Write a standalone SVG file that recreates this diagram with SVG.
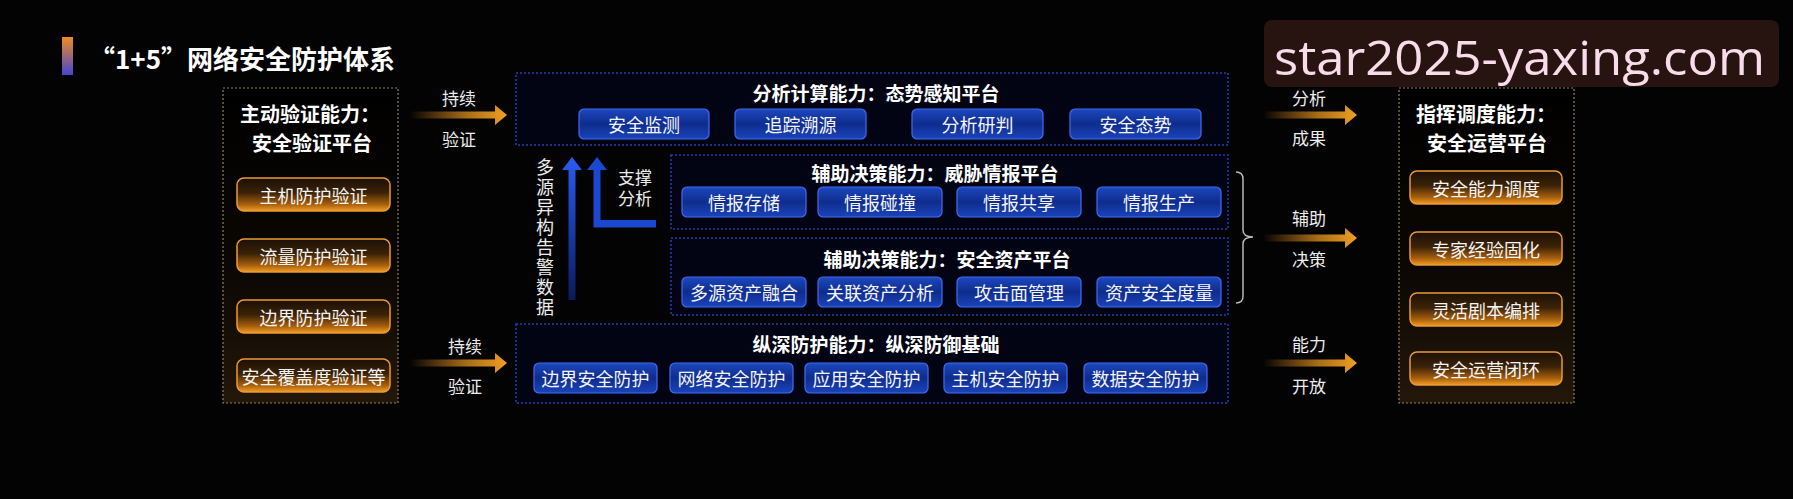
<svg xmlns="http://www.w3.org/2000/svg" width="1793" height="499" viewBox="0 0 1793 499">
  <style>
    text { font-family: "Noto Sans CJK SC", "Noto Sans", sans-serif; fill: #ffffff; }
    .h { font-size: 20px; font-weight: bold; text-anchor: middle; dominant-baseline: central; }
    .bh { font-size: 19px; font-weight: bold; text-anchor: middle; dominant-baseline: central; }
    .bt { font-size: 18px; text-anchor: middle; dominant-baseline: central; fill: #f4f4f4; }
    .lb { font-size: 17px; text-anchor: middle; dominant-baseline: central; fill: #ececec; }
    .ob { fill: url(#gOrange); stroke: #eb9a34; stroke-width: 1.5; }
    .bb { fill: url(#gBlue); stroke: #3f6cf0; stroke-width: 1.2; }
    .gbox { fill: url(#gBrown); stroke: #8f8068; stroke-width: 1.2; stroke-dasharray: 2 2; }
    .nbox { fill: #04061a; fill-opacity: 0.75; stroke: #2c3ab4; stroke-width: 1.5; stroke-dasharray: 2 2; }
    .oa { fill: url(#gArrow); }
  </style>
  <defs>
    <linearGradient id="gOrange" x1="0" y1="0" x2="0" y2="1">
      <stop offset="0" stop-color="#1c1006"/>
      <stop offset="0.45" stop-color="#3b2207"/>
      <stop offset="0.8" stop-color="#a8600e"/>
      <stop offset="1" stop-color="#f29c22"/>
    </linearGradient>
    <linearGradient id="gBlue" x1="0" y1="0" x2="0" y2="1">
      <stop offset="0" stop-color="#1d48c0"/>
      <stop offset="0.5" stop-color="#0e2c8c"/>
      <stop offset="1" stop-color="#1a44bc"/>
    </linearGradient>
    <linearGradient id="gBrown" x1="0" y1="0" x2="0" y2="1">
      <stop offset="0" stop-color="#000000"/>
      <stop offset="0.6" stop-color="#0c0803"/>
      <stop offset="1" stop-color="#24170a"/>
    </linearGradient>
    <linearGradient id="gArrow" x1="0" y1="0" x2="1" y2="0">
      <stop offset="0" stop-color="#e8901a" stop-opacity="0"/>
      <stop offset="0.6" stop-color="#d58a1e" stop-opacity="0.8"/>
      <stop offset="1" stop-color="#f2a024"/>
    </linearGradient>
    <linearGradient id="gTitleBar" x1="0" y1="0" x2="0" y2="1">
      <stop offset="0" stop-color="#f08c22"/>
      <stop offset="1" stop-color="#4446d0"/>
    </linearGradient>
    <linearGradient id="gBlueV" x1="0" y1="0" x2="0" y2="1">
      <stop offset="0" stop-color="#2a5cf2"/>
      <stop offset="1" stop-color="#0a1a5c"/>
    </linearGradient>
  </defs>

  <rect x="0" y="0" width="1793" height="499" fill="#030303"/>

  <!-- Title -->
  <g id="title">
    <rect x="62" y="37" width="11" height="38" fill="url(#gTitleBar)"/>
    <text x="89" y="57" style="font-size:26px;font-weight:bold;dominant-baseline:central;">“1+5”网络安全防护体系</text>
  </g>

  <!-- Overlay site text -->
  <g id="site-label">
    <rect x="1264" y="20" width="515" height="67" rx="8" fill="#2a1511" fill-opacity="0.92"/>
    <text x="1274" y="75" textLength="491" lengthAdjust="spacingAndGlyphs" style="font-family:'Open Sans','Noto Sans',sans-serif;font-size:48px;fill:#f9dcea;">star2025-yaxing.com</text>
  </g>

  <!-- Left: 主动验证能力 -->
  <g id="verify-platform">
    <rect class="gbox" x="223" y="88" width="175" height="315"/>
    <text class="h" x="310" y="113">主动验证能力：</text>
    <text class="h" x="312" y="142">安全验证平台</text>
    <g id="v1"><rect class="ob" x="237" y="178" width="153" height="33" rx="7"/><text class="bt" x="313.5" y="194.5">主机防护验证</text></g>
    <g id="v2"><rect class="ob" x="237" y="239" width="153" height="33" rx="7"/><text class="bt" x="313.5" y="255.5">流量防护验证</text></g>
    <g id="v3"><rect class="ob" x="237" y="300" width="153" height="33" rx="7"/><text class="bt" x="313.5" y="316.5">边界防护验证</text></g>
    <g id="v4"><rect class="ob" x="237" y="359" width="153" height="33" rx="7"/><text class="bt" x="313.5" y="375.5">安全覆盖度验证等</text></g>
  </g>

  <!-- 态势感知平台 -->
  <g id="situation-platform">
    <rect class="nbox" x="516" y="73" width="712" height="72"/>
    <text class="bh" x="876" y="92">分析计算能力：态势感知平台</text>
    <g id="s1"><rect class="bb" x="579" y="109" width="130" height="30" rx="5"/><text class="bt" x="644" y="124">安全监测</text></g>
    <g id="s2"><rect class="bb" x="735" y="109" width="131" height="30" rx="5"/><text class="bt" x="800.5" y="124">追踪溯源</text></g>
    <g id="s3"><rect class="bb" x="912" y="109" width="131" height="30" rx="5"/><text class="bt" x="977.5" y="124">分析研判</text></g>
    <g id="s4"><rect class="bb" x="1070" y="109" width="131" height="30" rx="5"/><text class="bt" x="1135.5" y="124">安全态势</text></g>
  </g>

  <!-- 威胁情报平台 -->
  <g id="threat-intel-platform">
    <rect class="nbox" x="671" y="155" width="557" height="74"/>
    <text class="bh" x="935" y="172">辅助决策能力：威胁情报平台</text>
    <g id="t1"><rect class="bb" x="682" y="187" width="124" height="30" rx="5"/><text class="bt" x="744" y="202">情报存储</text></g>
    <g id="t2"><rect class="bb" x="818" y="187" width="124" height="30" rx="5"/><text class="bt" x="880" y="202">情报碰撞</text></g>
    <g id="t3"><rect class="bb" x="957" y="187" width="124" height="30" rx="5"/><text class="bt" x="1019" y="202">情报共享</text></g>
    <g id="t4"><rect class="bb" x="1097" y="187" width="124" height="30" rx="5"/><text class="bt" x="1159" y="202">情报生产</text></g>
  </g>

  <!-- 安全资产平台 -->
  <g id="asset-platform">
    <rect class="nbox" x="671" y="238" width="557" height="77"/>
    <text class="bh" x="947" y="258">辅助决策能力：安全资产平台</text>
    <g id="a1"><rect class="bb" x="682" y="277" width="124" height="30" rx="5"/><text class="bt" x="744" y="292">多源资产融合</text></g>
    <g id="a2"><rect class="bb" x="818" y="277" width="124" height="30" rx="5"/><text class="bt" x="880" y="292">关联资产分析</text></g>
    <g id="a3"><rect class="bb" x="957" y="277" width="124" height="30" rx="5"/><text class="bt" x="1019" y="292">攻击面管理</text></g>
    <g id="a4"><rect class="bb" x="1097" y="277" width="124" height="30" rx="5"/><text class="bt" x="1159" y="292">资产安全度量</text></g>
  </g>

  <!-- 纵深防御基础 -->
  <g id="defense-base">
    <rect class="nbox" x="516" y="324" width="712" height="79"/>
    <text class="bh" x="876" y="343">纵深防护能力：纵深防御基础</text>
    <g id="d1"><rect class="bb" x="534" y="363" width="123" height="30" rx="5"/><text class="bt" x="595.5" y="378">边界安全防护</text></g>
    <g id="d2"><rect class="bb" x="670" y="363" width="123" height="30" rx="5"/><text class="bt" x="731.5" y="378">网络安全防护</text></g>
    <g id="d3"><rect class="bb" x="805" y="363" width="123" height="30" rx="5"/><text class="bt" x="866.5" y="378">应用安全防护</text></g>
    <g id="d4"><rect class="bb" x="944" y="363" width="123" height="30" rx="5"/><text class="bt" x="1005.5" y="378">主机安全防护</text></g>
    <g id="d5"><rect class="bb" x="1084" y="363" width="123" height="30" rx="5"/><text class="bt" x="1145.5" y="378">数据安全防护</text></g>
  </g>

  <!-- Right: 安全运营平台 -->
  <g id="ops-platform">
    <rect class="gbox" x="1399" y="88" width="175" height="315"/>
    <text class="h" x="1486" y="113">指挥调度能力：</text>
    <text class="h" x="1487" y="142">安全运营平台</text>
    <g id="o1"><rect class="ob" x="1410" y="171" width="152" height="33" rx="7"/><text class="bt" x="1486" y="187.5">安全能力调度</text></g>
    <g id="o2"><rect class="ob" x="1410" y="232" width="152" height="33" rx="7"/><text class="bt" x="1486" y="248.5">专家经验固化</text></g>
    <g id="o3"><rect class="ob" x="1410" y="293" width="152" height="33" rx="7"/><text class="bt" x="1486" y="309.5">灵活剧本编排</text></g>
    <g id="o4"><rect class="ob" x="1410" y="352" width="152" height="33" rx="7"/><text class="bt" x="1486" y="368.5">安全运营闭环</text></g>
  </g>

  <!-- Connectors -->
  <g id="connectors">
    <!-- left orange arrows -->
    <path class="oa" d="M410,111.5 H495 V105 L507,115 L495,125 V118.5 H410 Z"/>
    <path class="oa" d="M410,359.5 H495 V353 L507,363 L495,373 V366.5 H410 Z"/>
    <text class="lb" x="459" y="97">持续</text>
    <text class="lb" x="459" y="138">验证</text>
    <text class="lb" x="465" y="345">持续</text>
    <text class="lb" x="465" y="385">验证</text>

    <!-- blue vertical arrows -->
    <path d="M568.5,170 H562 L572,157 L582,170 H575.5 V300 H568.5 Z" fill="url(#gBlueV)"/>
    <path d="M593.5,170 H587 L597,157 L607,170 H600.5 V220 H656 V227.5 H593.5 Z" fill="#1a48d0"/>
    <text x="545" y="158" style="font-size:18px;fill:#ececec;writing-mode:vertical-rl;letter-spacing:2px;">多源异构告警数据</text>
    <text style="font-size:17px;fill:#ececec;text-anchor:middle;"><tspan x="635" y="184">支撑</tspan><tspan x="635" y="205">分析</tspan></text>

    <!-- brace -->
    <path d="M1236,172 Q1243,172 1243,179 V230 Q1243,237 1253,237 Q1243,237 1243,244 V296 Q1243,303 1236,303" fill="none" stroke="#b8b8b8" stroke-width="1.5"/>

    <!-- right orange arrows -->
    <path class="oa" d="M1263,111.5 H1345 V105 L1357,115 L1345,125 V118.5 H1263 Z"/>
    <path class="oa" d="M1263,234.5 H1345 V228 L1357,238 L1345,248 V241.5 H1263 Z"/>
    <path class="oa" d="M1263,359.5 H1345 V353 L1357,363 L1345,373 V366.5 H1263 Z"/>
    <text class="lb" x="1309" y="97">分析</text>
    <text class="lb" x="1309" y="137">成果</text>
    <text class="lb" x="1309" y="217">辅助</text>
    <text class="lb" x="1309" y="258">决策</text>
    <text class="lb" x="1309" y="343">能力</text>
    <text class="lb" x="1309" y="385">开放</text>
  </g>
</svg>
